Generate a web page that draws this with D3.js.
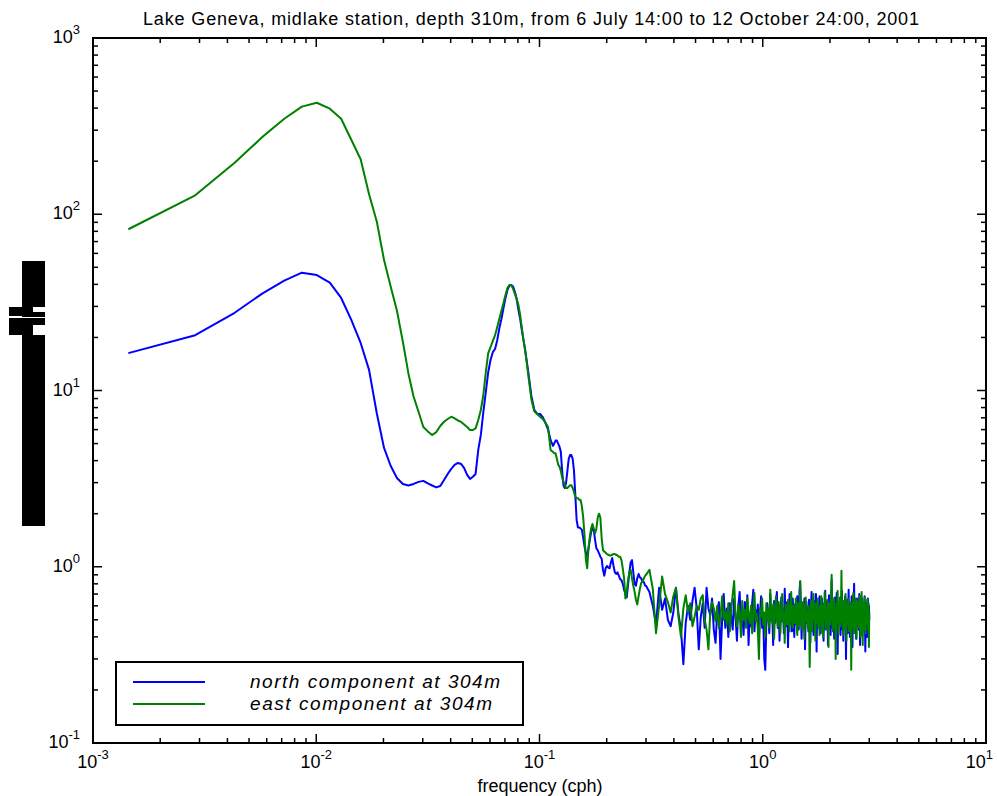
<!DOCTYPE html>
<html><head><meta charset="utf-8">
<script src="https://cdn.jsdelivr.net/npm/d3@7"></script>
<style>
body{margin:0;background:#fff}
svg{display:block}
text{font-family:"Liberation Sans",Arial,Helvetica,sans-serif;fill:#000}
</style>
</head><body>
<svg id="chart" width="997" height="796"></svg>
<script>
// ---------------- DATA ----------------
const titleText = "Lake Geneva, midlake station, depth 310m, from 6 July 14:00 to 12 October 24:00, 2001";
const xLabelText = "frequency (cph)";
const seriesNames = ["north component at 304m", "east component at 304m"];
const seriesColors = ["#0000ff", "#008000"];

const xTickValues = [0.001, 0.01, 0.1, 1, 10];
const xTickExps = ["-3", "-2", "-1", "0", "1"];
const yTickValues = [0.1, 1, 10, 100, 1000];
const yTickExps = ["-1", "0", "1", "2", "3"];

// low-frequency (smooth) part: frequency in cph
const lowFreq = [0.00144,0.00287,0.00431,0.00575,0.00719,0.00862,0.01006,0.0115,0.01293,0.01437,
  0.01581,0.01724,0.01868,0.02012,0.02156,0.02299,0.02443,0.02587,0.0273,0.02874,
  0.03018,0.03161,0.03305,0.03449,0.03593,0.03736,0.0388,0.04024,0.04167,0.04311,
  0.04455,0.04598,0.04742,0.04886,0.0503,0.05173,0.05317,0.05461,0.05604,0.05748,
  0.05892,0.06035,0.06179,0.06323,0.06467,0.0661,0.06754,0.06898,0.07041,0.07185,
  0.07329,0.07472,0.07616,0.0776,0.07904,0.08047,0.08191,0.08335,0.08478,0.08622,
  0.08909,0.09197,0.09484,0.09772,0.10059,0.10346,0.10634,0.10921,0.11209,0.11496];
const northLow = [16.3,20.6,27.6,35.6,42.0,46.6,45.2,40.9,33.5,25.1,
  18.6,13.1,7.4,4.72,3.73,3.19,2.95,2.89,2.95,3.03,
  3.07,2.97,2.89,2.82,2.87,3.11,3.36,3.59,3.78,3.88,
  3.83,3.63,3.32,3.15,3.24,3.36,4.6,5.6,7.55,9.8,
  12.7,14.9,16.5,17.2,19.3,22.6,25.5,29.4,33.5,37.2,
  39.2,39.7,38.9,36.2,33.0,28.6,25.5,22.0,19.3,17.0,
  12.7,9.31,7.75,7.36,7.36,7.07,6.55,6.0,5.24,4.85];
const eastLow = [82.2,128,196,275,348,408,429,397,348,264,
  205,130,90.7,55.0,38.8,28.3,18.9,12.5,9.22,7.55,
  6.21,5.86,5.59,5.81,6.29,6.65,6.89,7.10,6.94,6.76,
  6.63,6.41,6.21,5.97,5.97,6.10,6.80,7.75,9.43,12.7,
  16.3,17.6,19.1,20.6,22.9,25.5,28.3,31.4,34.8,38.2,
  39.7,39.7,37.7,35.3,33.0,30.5,26.8,22.6,19.3,17.0,
  12.2,8.9,7.6,7.36,7.1,6.9,6.55,6.2,4.6,4.48];

// middle part, values on a log-spaced frequency grid
const midFreqStart = 0.1164;
const midFreqEnd = 0.2974;
const northMid = [
  5.0,5.2,5.2,5.0,4.8,4.5,3.5,2.9,2.8,3.0,
  3.5,4.1,4.3,4.3,4.1,3.5,2.55,1.84,1.67,1.67,
  1.65,1.62,1.46,1.30,1.20,1.14,1.27,1.42,1.57,1.65,
  1.62,1.42,1.27,1.24,1.19,1.14,1.11,0.96,0.89,0.98,
  1.01,0.99,0.98,1.06,1.12,1.01,0.93,0.91,0.93,0.89,
  0.85,0.84,0.80,0.74,0.70,0.67,0.79,0.93,1.06,1.09,
  0.93,0.80,0.78,0.86,0.91,0.87,0.86,0.82,0.82,0.78];
const eastMid = [
  4.4,4.4,4.1,3.8,3.7,3.5,3.2,3.05,2.9,2.8,
  2.8,2.85,2.9,2.9,2.8,2.65,2.5,2.45,2.45,2.4,
  2.39,2.2,1.9,1.5,1.10,0.98,1.27,1.48,1.65,1.75,
  1.65,1.55,1.65,1.9,2.0,1.9,1.45,1.24,1.22,1.2,
  1.18,1.17,1.16,1.16,1.17,1.18,1.18,1.17,1.16,1.14,
  1.14,1.09,0.98,0.86,0.66,0.72,0.84,0.93,0.96,0.86,
  0.78,0.72,0.65,0.61,0.68,0.75,0.81,0.82,0.86,0.89];

// high-frequency tail, values on a linear frequency grid (0.3 .. 3.0 cph)
const tailFreqStart = 0.3;
const tailFreqEnd = 3.0;
const northTail = [
  0.78,0.72,0.60,0.47,0.76,0.57,0.66,0.50,0.46,0.55,0.76,0.54,0.44,0.28,0.48,0.60,0.50,0.64,0.76,0.58,
  0.34,0.52,0.62,0.45,0.76,0.58,0.53,0.66,0.44,0.37,0.55,0.63,0.30,0.50,0.70,0.45,0.58,0.40,0.62,0.52,
  0.44,0.66,0.52,0.38,0.60,0.72,0.47,0.55,0.41,0.63,0.50,0.69,0.36,0.54,0.46,0.62,0.74,0.43,0.57,0.49,
  0.61,0.40,0.55,0.68,0.45,0.52,0.30,0.26,0.47,0.62,0.53,0.42,0.70,0.50,0.58,0.36,0.64,0.48,0.55,0.72,
  0.45,0.60,0.38,0.53,0.67,0.49,0.57,0.42,0.75,0.51,0.46,0.63,0.35,0.56,0.70,0.48,0.59,0.43,0.66,0.52,
  0.40,0.61,0.54,0.47,0.68,0.50,0.44,0.72,0.82,0.56,0.39,0.60,0.52,0.45,0.66,0.34,0.55,0.63,0.48,0.58,
  0.43,0.65,0.51,0.37,0.60,0.72,0.46,0.56,0.41,0.64,0.52,0.48,0.70,0.33,0.57,0.62,0.45,0.53,0.68,0.50,
  0.42,0.59,0.66,0.47,0.55,0.38,0.62,0.51,0.73,0.44,0.58,0.49,0.64,0.36,0.53,0.69,0.46,0.57,0.41,0.60,
  0.84,0.52,0.45,0.63,0.55,0.39,0.67,0.48,0.58,0.43,0.71,0.50,0.32,0.56,0.62,0.47,0.54,0.66,0.41,0.59,
  0.49,0.73,0.44,0.57,0.38,0.63,0.52,0.46,0.68,0.55,0.30,0.60,0.50,0.65,0.42,0.56,0.74,0.47,0.53,0.40,
  0.61,0.51,0.45,0.68,0.56,0.35,0.59,0.48,0.64,0.80,0.50,0.43,0.62,0.54,0.39,0.57,0.66,0.46,0.53,0.60,
  0.44,0.58,0.70,0.49,0.36,0.55,0.63,0.47,0.52,0.66,0.41,0.57,0.50,0.62,0.45,0.54,0.68,0.48,0.33,0.56,
  0.62,0.47,0.55,0.40,0.58,0.66,0.45,0.52,0.60,0.50];
const eastTail = [
  0.90,0.96,0.75,0.42,0.60,0.88,0.70,0.63,0.55,0.68,0.76,0.52,0.40,0.58,0.69,0.55,0.62,0.46,0.52,0.60,
  0.57,0.66,0.69,0.50,0.44,0.34,0.55,0.63,0.58,0.49,0.60,0.45,0.53,0.68,0.50,0.56,0.47,0.62,0.43,0.58,
  0.70,0.83,0.52,0.46,0.61,0.55,0.40,0.64,0.50,0.57,0.45,0.66,0.53,0.48,0.60,0.42,0.56,0.71,0.49,0.54,
  0.44,0.30,0.58,0.52,0.66,0.47,0.55,0.40,0.62,0.50,0.58,0.45,0.74,0.53,0.48,0.61,0.39,0.56,0.68,0.51,
  0.46,0.63,0.54,0.42,0.59,0.70,0.49,0.55,0.37,0.61,0.52,0.47,0.65,0.56,0.43,0.58,0.72,0.50,0.45,0.60,
  0.54,0.48,0.66,0.52,0.41,0.62,0.56,0.46,0.83,0.58,0.50,0.44,0.63,0.53,0.39,0.57,0.67,0.49,0.55,0.45,
  0.60,0.51,0.27,0.47,0.64,0.56,0.43,0.59,0.70,0.50,0.54,0.38,0.62,0.48,0.57,0.66,0.45,0.53,0.41,0.60,
  0.52,0.68,0.46,0.56,0.40,0.61,0.50,0.72,0.55,0.44,0.59,0.48,0.65,0.53,0.35,0.57,0.62,0.47,0.54,0.69,
  0.90,0.56,0.43,0.60,0.51,0.66,0.45,0.58,0.30,0.53,0.62,0.48,0.73,0.55,0.42,0.59,0.50,0.67,0.46,0.57,
  0.95,0.60,0.49,0.55,0.41,0.64,0.52,0.58,0.45,0.70,0.50,0.38,0.61,0.54,0.47,0.66,0.56,0.43,0.59,0.51,
  0.48,0.63,0.26,0.54,0.60,0.45,0.57,0.71,0.50,0.42,0.62,0.55,0.47,0.66,0.52,0.39,0.58,0.64,0.49,0.56,
  0.61,0.45,0.54,0.68,0.50,0.40,0.59,0.53,0.72,0.47,0.56,0.36,0.63,0.52,0.58,0.44,0.67,0.50,0.55,0.42,
  0.60,0.53,0.47,0.65,0.50,0.57,0.44,0.62,0.35,0.55];

// ---------------- CHART ----------------
const W = 997, H = 796;
const plot = {left: 93, right: 986, top: 38, bottom: 743};
const svg = d3.select("#chart");

const x = d3.scaleLog().domain([1e-3, 10]).range([plot.left, plot.right]);
const y = d3.scaleLog().domain([0.1, 1000]).range([plot.bottom, plot.top]);

function buildSeries(lowVals, midVals, tailVals) {
  const pts = lowFreq.map((f, i) => [f, lowVals[i]]);
  const nm = midVals.length;
  midVals.forEach((v, i) => pts.push([midFreqStart * Math.pow(midFreqEnd / midFreqStart, i / (nm - 1)), v]));
  const tailGrid = d3.scaleLinear().domain([0, tailVals.length - 1]).range([tailFreqStart, tailFreqEnd]);
  tailVals.forEach((v, i) => pts.push([tailGrid(i), v]));
  return pts;
}
const series = [buildSeries(northLow, northMid, northTail), buildSeries(eastLow, eastMid, eastTail)];

const line = d3.line().x(d => x(d[0])).y(d => y(d[1]));

const gData = svg.append("g");
series.forEach((s, i) => {
  gData.append("path").datum(s)
    .attr("d", line)
    .attr("fill", "none")
    .attr("stroke", seriesColors[i])
    .attr("stroke-width", 2)
    .attr("stroke-linejoin", "round");
});

// frame
svg.append("rect")
  .attr("x", plot.left).attr("y", plot.top)
  .attr("width", plot.right - plot.left).attr("height", plot.bottom - plot.top)
  .attr("fill", "none").attr("stroke", "#000").attr("stroke-width", 2);

// ticks (inward on all four sides)
const isMajor = v => Math.abs(Math.log10(v) - Math.round(Math.log10(v))) < 1e-9;
const gT = svg.append("g").attr("stroke", "#000").attr("stroke-width", 1.5);
x.ticks().forEach(v => {
  const L = isMajor(v) ? 9 : 5, px = x(v);
  if (px <= plot.left + 0.5 || px >= plot.right - 0.5) return;
  gT.append("line").attr("x1", px).attr("x2", px).attr("y1", plot.bottom).attr("y2", plot.bottom - L);
  gT.append("line").attr("x1", px).attr("x2", px).attr("y1", plot.top).attr("y2", plot.top + L);
});
y.ticks().forEach(v => {
  const L = isMajor(v) ? 9 : 5, py = y(v);
  if (py <= plot.top + 0.5 || py >= plot.bottom - 0.5) return;
  gT.append("line").attr("y1", py).attr("y2", py).attr("x1", plot.left).attr("x2", plot.left + L);
  gT.append("line").attr("y1", py).attr("y2", py).attr("x1", plot.right).attr("x2", plot.right - L);
});

// tick labels
xTickValues.forEach((v, i) => {
  const t = svg.append("text")
    .attr("x", x(v)).attr("y", 768)
    .attr("text-anchor", "middle").attr("font-size", 18);
  t.append("tspan").text("10");
  t.append("tspan").attr("dy", -9).attr("font-size", 13).text(xTickExps[i]);
  const w = t.node().getComputedTextLength();
  if (x(v) + w / 2 > W - 4) t.attr("x", W - 4 - w / 2);
});
yTickValues.forEach((v, i) => {
  const t = svg.append("text")
    .attr("x", 80).attr("y", y(v) + 5)
    .attr("text-anchor", "end").attr("font-size", 18);
  t.append("tspan").text("10");
  t.append("tspan").attr("dy", -9).attr("font-size", 13).text(yTickExps[i]);
});

// title & x label
svg.append("text").attr("x", 531).attr("y", 25)
  .attr("text-anchor", "middle").attr("font-size", 18)
  .attr("textLength", 776).attr("lengthAdjust", "spacing")
  .text(titleText);
svg.append("text").attr("x", 540).attr("y", 792)
  .attr("text-anchor", "middle").attr("font-size", 18)
  .text(xLabelText);

// y label (rendered as a solid black block in the reference)
const gY = svg.append("g").attr("fill", "#000");
gY.append("rect").attr("x", 22).attr("y", 261).attr("width", 23).attr("height", 46);
gY.append("rect").attr("x", 9).attr("y", 307).attr("width", 24).attr("height", 9);
gY.append("rect").attr("x", 22).attr("y", 312).attr("width", 23).attr("height", 5);
gY.append("rect").attr("x", 9).attr("y", 318).attr("width", 36).attr("height", 7);
gY.append("rect").attr("x", 9).attr("y", 325).attr("width", 24).attr("height", 10);
gY.append("rect").attr("x", 22).attr("y", 335).attr("width", 23).attr("height", 191);

// legend
const legendTextLen = [250, 242];
const lg = svg.append("g");
lg.append("rect").attr("x", 116).attr("y", 662).attr("width", 407).attr("height", 63)
  .attr("fill", "#fff").attr("stroke", "#000").attr("stroke-width", 2);
seriesNames.forEach((name, i) => {
  const ly = 682 + i * 22;
  lg.append("line").attr("x1", 133).attr("x2", 205).attr("y1", ly).attr("y2", ly)
    .attr("stroke", seriesColors[i]).attr("stroke-width", 2);
  lg.append("text").attr("x", 250).attr("y", ly + 6)
    .attr("font-size", 19).attr("font-style", "italic")
    .attr("textLength", legendTextLen[i]).attr("lengthAdjust", "spacing")
    .text(name);
});
</script>
</body></html>
